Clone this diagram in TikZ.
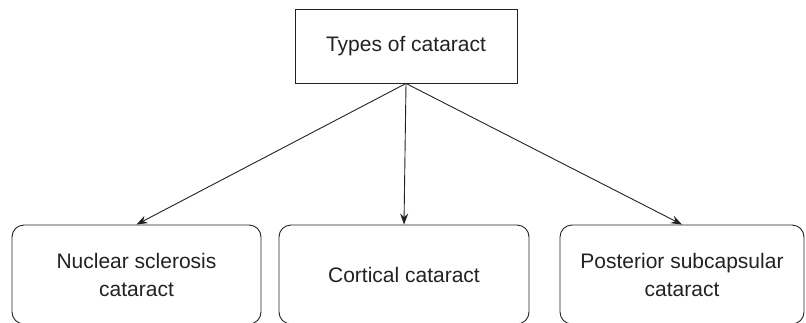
\documentclass[tikz,border=0pt]{standalone}
\usepackage{fontspec}
\setmainfont{Liberation Sans}
\usetikzlibrary{arrows.meta}
\definecolor{ink}{HTML}{222222}

\begin{document}
\begin{tikzpicture}[x=1pt, y=1pt, font=\fontsize{21}{28}\selectfont, text=ink,
  topbox/.style={rectangle, draw=ink, line width=0.9pt, minimum width=222pt, minimum height=74pt, inner sep=0pt},
  typebox/.style={rectangle, draw=ink, line width=0.9pt, rounded corners=12pt, minimum height=99pt, align=center, inner sep=0pt},
  link/.style={-{Stealth[length=11pt, width=8pt]}, line width=0.9pt, ink}]
  \useasboundingbox (0,0) rectangle (806,-322);
  \node[topbox] (types) at (406,-46) {Types of cataract};
  \node[typebox, minimum width=249pt] (nuclear) at (136.5,-274.5) {Nuclear sclerosis\\cataract};
  \node[typebox, minimum width=250pt] (cortical) at (404,-274.5) {Cortical cataract};
  \node[typebox, minimum width=244pt] (posterior) at (682,-274.5) {Posterior subcapsular\\cataract};
  \draw[link] (types.south) -- (nuclear.north);
  \draw[link] (types.south) -- (cortical.north);
  \draw[link] (types.south) -- (posterior.north);
\end{tikzpicture}
\end{document}
